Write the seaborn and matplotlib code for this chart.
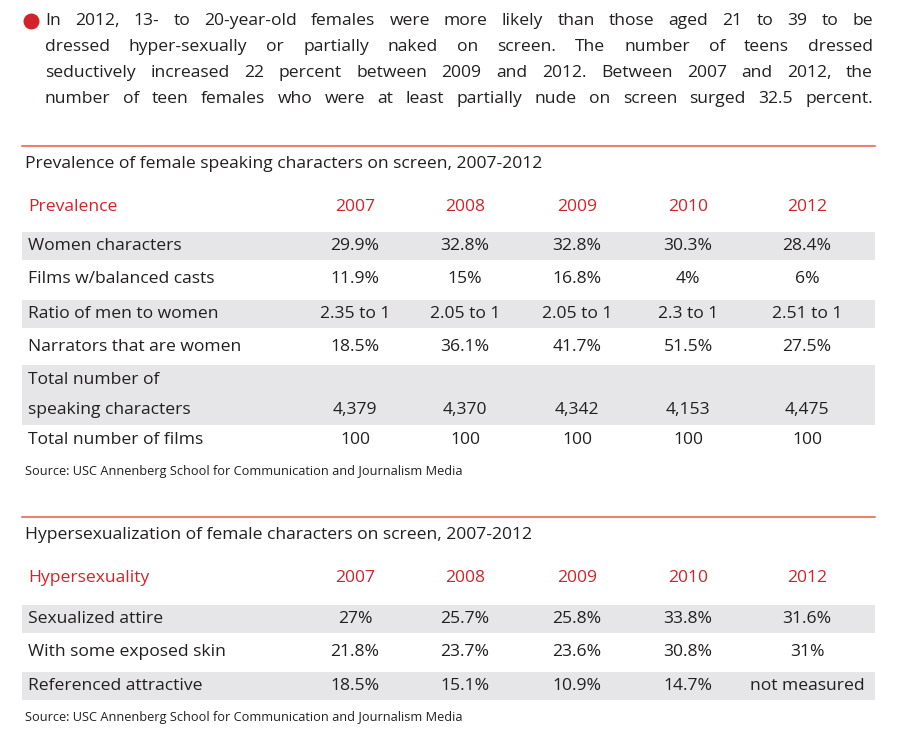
import matplotlib
matplotlib.use("Agg")
import matplotlib.pyplot as plt
import seaborn as sns

years = ["2007", "2008", "2009", "2010", "2012"]

intro_lines = [
    "In 2012, 13- to 20-year-old females were more likely than those aged 21 to 39 to be",
    "dressed hyper-sexually or partially naked on screen. The number of teens dressed",
    "seductively increased 22 percent between 2009 and 2012. Between 2007 and 2012, the",
    "number of teen females who were at least partially nude on screen surged 32.5 percent.",
]

prev_title = "Prevalence of female speaking characters on screen, 2007-2012"
prev_labels = ["Women characters", "Films w/balanced casts", "Ratio of men to women",
               "Narrators that are women", "Total number of\nspeaking characters",
               "Total number of films"]
prev_values = [
    ["29.9%", "32.8%", "32.8%", "30.3%", "28.4%"],
    ["11.9%", "15%", "16.8%", "4%", "6%"],
    ["2.35 to 1", "2.05 to 1", "2.05 to 1", "2.3 to 1", "2.51 to 1"],
    ["18.5%", "36.1%", "41.7%", "51.5%", "27.5%"],
    ["4,379", "4,370", "4,342", "4,153", "4,475"],
    ["100", "100", "100", "100", "100"],
]

hyp_title = "Hypersexualization of female characters on screen, 2007-2012"
hyp_labels = ["Sexualized attire", "With some exposed skin", "Referenced attractive"]
hyp_values = [
    ["27%", "25.7%", "25.8%", "33.8%", "31.6%"],
    ["21.8%", "23.7%", "23.6%", "30.8%", "31%"],
    ["18.5%", "15.1%", "10.9%", "14.7%", "not measured"],
]

source = "Source: USC Annenberg School for Communication and Journalism Media"

sns.set_style("white")
plt.rcParams["font.family"] = ["Open Sans", "DejaVu Sans"]
RED = "#d2232a"
GRAY = "#e6e6e8"
TXT = "#231f20"
col_x = [355, 465, 577, 688, 807]
FS = 12.6

fig = plt.figure(figsize=(9, 7.5), dpi=100)
ax = fig.add_axes([0, 0, 1, 1])
ax.set_xlim(0, 900)
ax.set_ylim(750, 0)
ax.axis("off")
renderer = fig.canvas.get_renderer()


def width(s, fs):
    t = ax.text(0, 0, s, fontsize=fs)
    w = t.get_window_extent(renderer).width
    t.remove()
    return w


# intro paragraph, justified between x=45 and x=873
ax.scatter([31], [21], s=110, color=RED)
for i, line in enumerate(intro_lines):
    y = 21 + i * 26
    words = line.split(" ")
    ws = [width(w, FS) for w in words]
    gap = (873 - 45 - sum(ws)) / (len(words) - 1)
    x = 45
    for w, wd in zip(words, ws):
        ax.text(x, y, w, fontsize=FS, color=TXT, va="center")
        x += wd + gap


def table(top, title, head, labels, values, row_y, row_h, gray_rows, src_y):
    ax.plot([22, 875], [top, top], color="#e8836f", lw=1.5)
    ax.text(25, top + 18, title, fontsize=FS, color=TXT, va="center")
    hy = top + 61
    ax.text(28, hy, head, fontsize=FS, color=RED, va="center")
    for x, yr in zip(col_x, years):
        ax.text(x, hy, yr, fontsize=FS, color=RED, va="center", ha="center")
    for i, (lab, vals) in enumerate(zip(labels, values)):
        y, h = row_y[i], row_h[i]
        if i in gray_rows:
            ax.axhspan(y - h / 2, y + h / 2, xmin=22 / 900, xmax=875 / 900, color=GRAY, lw=0)
        if "\n" in lab:
            l1, l2 = lab.split("\n")
            ax.text(28, y - 15, l1, fontsize=FS, color=TXT, va="center")
            ax.text(28, y + 15, l2, fontsize=FS, color=TXT, va="center")
            vy = y + 15
        else:
            ax.text(28, y, lab, fontsize=FS, color=TXT, va="center")
            vy = y
        for x, v in zip(col_x, vals):
            ax.text(x, vy, v, fontsize=FS, color=TXT, va="center", ha="center")
    ax.text(25, src_y, source, fontsize=9.2, color=TXT, va="center")


table(146, prev_title, "Prevalence", prev_labels, prev_values,
      [246, 279, 314, 347, 395, 440], [28, 34, 28, 34, 60, 30], {0, 2, 4}, 472)
table(517, hyp_title, "Hypersexuality", hyp_labels, hyp_values,
      [619, 652, 686], [28, 34, 28], {0, 2}, 718)

fig.savefig("out.png", dpi=100)
